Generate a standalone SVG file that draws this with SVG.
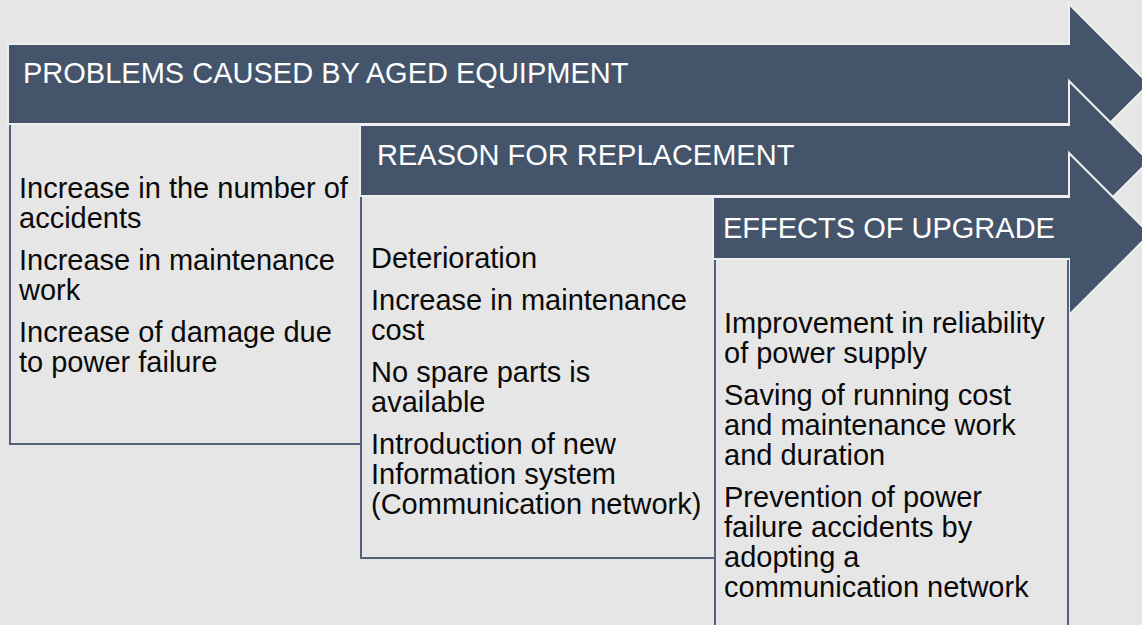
<svg xmlns="http://www.w3.org/2000/svg" width="1142" height="625" viewBox="0 0 1142 625">
  <style>
    .arrow { fill: #44546a; stroke: #efefef; stroke-width: 2; stroke-linejoin: miter; }
    .frame { fill: none; stroke: #53627a; stroke-width: 2; }
    .head { font-family: "Liberation Sans", Arial, sans-serif; font-size: 29px; fill: #ffffff; }
    .body { font-family: "Liberation Sans", Arial, sans-serif; font-size: 29px; fill: #0a0a0a; }
  </style>
  <rect width="1142" height="625" fill="#e6e6e6"/>

  <!-- Stage 1: problems -->
  <g id="stage-problems">
    <polygon class="arrow" points="8,44 1069,44 1069,4 1149,84 1069,164 1069,124 8,124"/>
    <path class="frame" d="M10,125 V444 H361"/>
    <text class="head" x="23" y="83">PROBLEMS CAUSED BY AGED EQUIPMENT</text>
    <text class="body">
      <tspan x="19" y="198">Increase in the number of</tspan>
      <tspan x="19" y="228">accidents</tspan>
      <tspan x="19" y="270">Increase in maintenance</tspan>
      <tspan x="19" y="300">work</tspan>
      <tspan x="19" y="342">Increase of damage due</tspan>
      <tspan x="19" y="372">to power failure</tspan>
    </text>
  </g>

  <!-- Stage 2: reasons -->
  <g id="stage-reason">
    <polygon class="arrow" points="360,125 1069,125 1069,81 1149,161 1069,241 1069,196 360,196"/>
    <path class="frame" d="M361,197 V558 H715"/>
    <text class="head" x="377" y="165">REASON FOR REPLACEMENT</text>
    <text class="body">
      <tspan x="371" y="268">Deterioration</tspan>
      <tspan x="371" y="310">Increase in maintenance</tspan>
      <tspan x="371" y="340">cost</tspan>
      <tspan x="371" y="382">No spare parts is</tspan>
      <tspan x="371" y="412">available</tspan>
      <tspan x="371" y="454">Introduction of new</tspan>
      <tspan x="371" y="484">Information system</tspan>
      <tspan x="371" y="514">(Communication network)</tspan>
    </text>
  </g>

  <!-- Stage 3: effects -->
  <g id="stage-effects">
    <polygon class="arrow" points="713,197 1069,197 1069,153 1150,234 1069,315 1069,259 713,259"/>
    <path class="frame" d="M715,260 V626 M1068,260 V626"/>
    <text class="head" x="723" y="238">EFFECTS OF UPGRADE</text>
    <text class="body">
      <tspan x="724" y="333">Improvement in reliability</tspan>
      <tspan x="724" y="363">of power supply</tspan>
      <tspan x="724" y="405">Saving of running cost</tspan>
      <tspan x="724" y="435">and maintenance work</tspan>
      <tspan x="724" y="465">and duration</tspan>
      <tspan x="724" y="507">Prevention of power</tspan>
      <tspan x="724" y="537">failure accidents by</tspan>
      <tspan x="724" y="567">adopting a</tspan>
      <tspan x="724" y="597">communication network</tspan>
    </text>
  </g>
</svg>
